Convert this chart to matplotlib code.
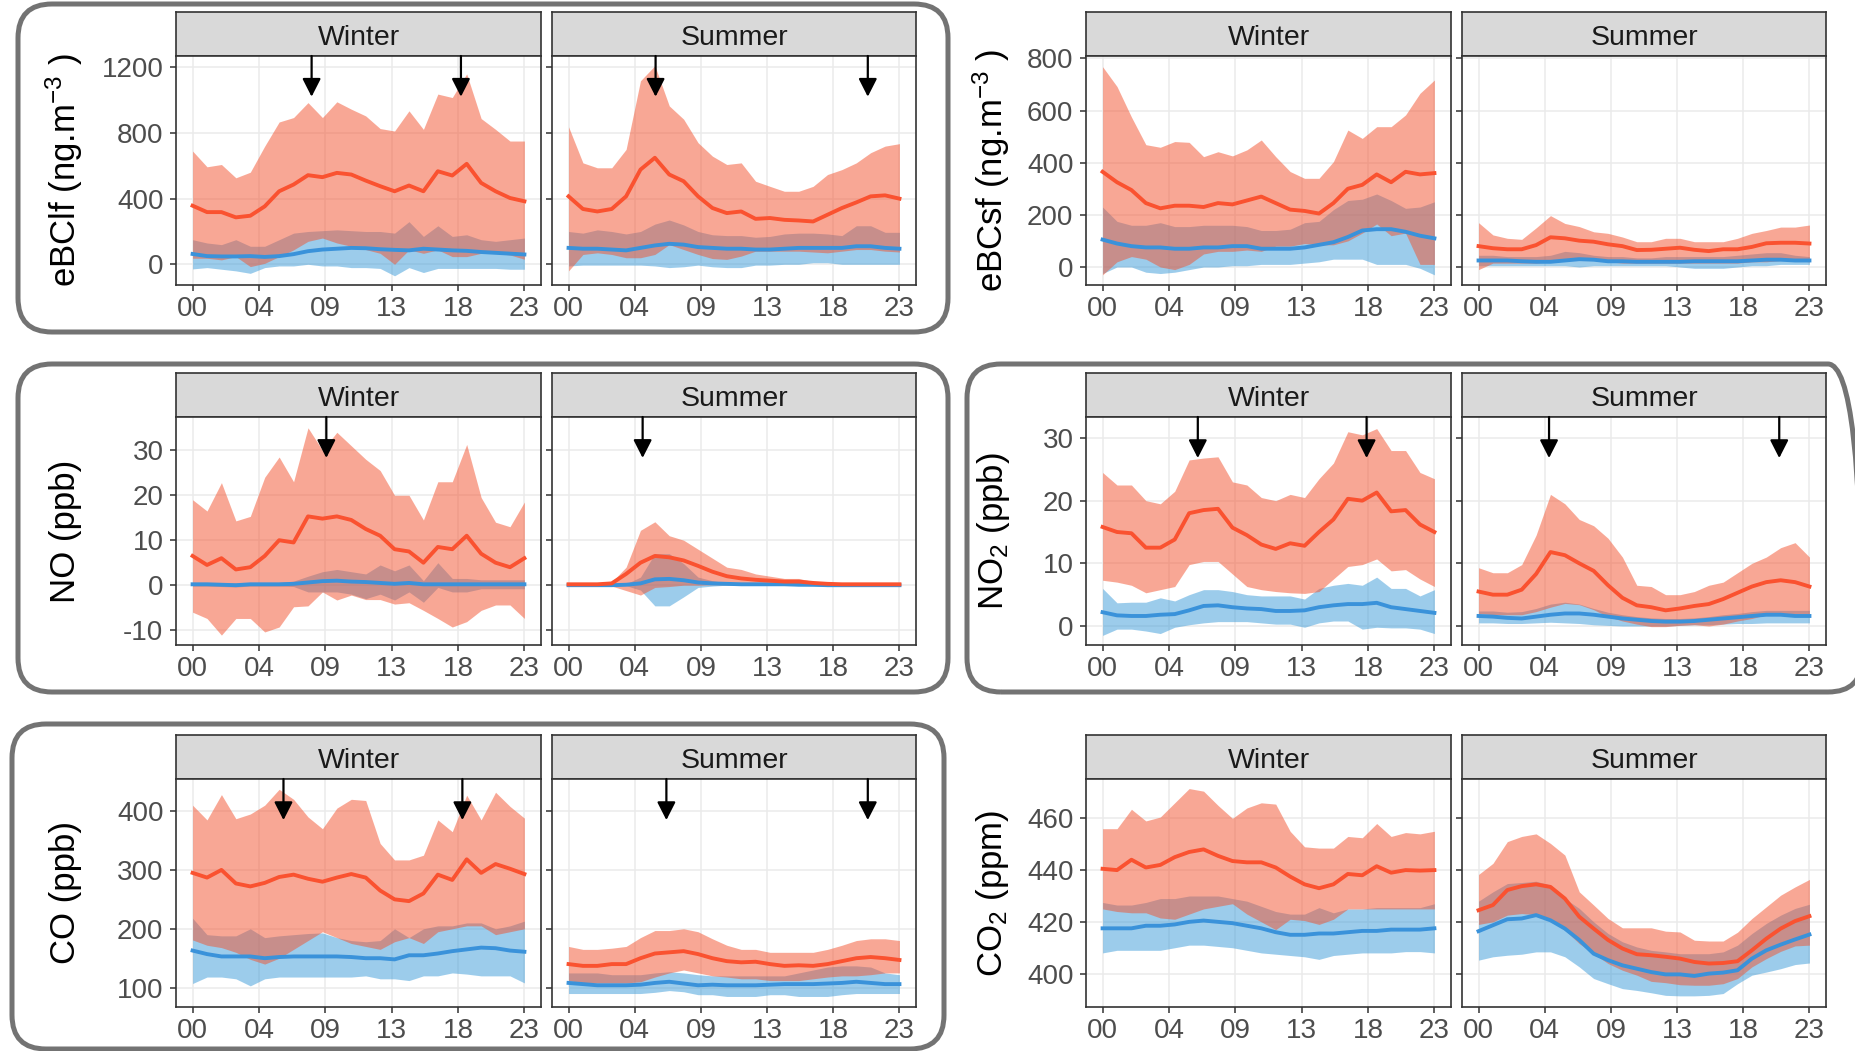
"""Diurnal profiles (mean and spread) per pollutant, winter vs summer."""

import matplotlib.pyplot as plt
import numpy as np
from matplotlib.patches import FancyBboxPatch
from matplotlib.transforms import Affine2D

plt.rcParams['font.family'] = ['Liberation Sans', 'DejaVu Sans']
plt.rcParams['mathtext.fontset'] = 'custom'
plt.rcParams['mathtext.rm'] = 'Liberation Sans'
plt.rcParams['mathtext.it'] = 'Liberation Sans:italic'
plt.rcParams['mathtext.bf'] = 'Liberation Sans:bold'
plt.rcParams['axes.unicode_minus'] = False

hours = list(range(24))
hour_labels = ['00', '04', '09', '13', '18', '23']
seasons = ['Winter', 'Summer']

# ---- eBClf (ng m-3) ----
ebclf_w_red_mid = [357, 318, 318, 286, 296, 353, 445, 486, 543, 531, 557, 547, 510, 476, 445, 480, 445, 567, 541, 612, 496, 445, 404, 384]
ebclf_w_red_lo = [37, 37, 27, 47, -14, 6, 47, 88, 140, 160, 130, 110, 90, 67, 0, 88, 67, 88, 47, 47, 67, 67, 57, 31]
ebclf_w_red_hi = [690, 594, 608, 527, 561, 720, 867, 894, 985, 894, 990, 945, 904, 827, 812, 935, 822, 1037, 1016, 1160, 888, 822, 751, 751]
ebclf_w_blue_mid = [63, 50, 48, 48, 50, 45, 50, 62, 80, 90, 95, 100, 98, 92, 88, 85, 95, 90, 85, 82, 75, 70, 65, 60]
ebclf_w_blue_lo = [-28, -20, -30, -40, -55, -20, -10, -10, 0, -10, -10, -20, -20, -25, -70, -20, -50, -25, -25, -25, -25, -25, -30, -30]
ebclf_w_blue_hi = [150, 130, 120, 150, 110, 110, 150, 190, 200, 205, 210, 205, 200, 200, 190, 260, 170, 235, 170, 180, 150, 140, 150, 160]
ebclf_s_red_mid = [414, 337, 322, 337, 414, 577, 649, 547, 506, 414, 343, 312, 322, 277, 282, 271, 267, 261, 302, 343, 377, 414, 420, 400]
ebclf_s_red_lo = [-40, 60, 70, 60, 40, 40, 60, 120, 90, 60, 35, 30, 50, 80, 80, 80, 80, 75, 70, 80, 90, 90, 80, 75]
ebclf_s_red_hi = [838, 618, 588, 588, 700, 1118, 1210, 965, 884, 741, 659, 608, 618, 506, 475, 445, 445, 475, 547, 577, 618, 680, 720, 735]
ebclf_s_blue_mid = [100, 95, 95, 90, 85, 100, 115, 125, 120, 105, 100, 95, 95, 90, 90, 95, 100, 100, 100, 100, 110, 110, 100, 95]
ebclf_s_blue_lo = [-10, -5, -5, -5, -5, -5, -10, -20, -15, -5, -15, -20, -20, -5, -5, 0, 0, 10, 10, 0, 0, 0, 0, 0]
ebclf_s_blue_hi = [200, 190, 210, 200, 185, 200, 245, 270, 240, 200, 180, 175, 175, 165, 170, 185, 190, 190, 185, 175, 235, 235, 195, 195]

# ---- eBCsf (ng m-3) ----
ebcsf_w_red_mid = [365, 325, 295, 245, 225, 235, 235, 230, 245, 240, 255, 270, 245, 220, 215, 205, 245, 300, 315, 355, 325, 365, 355, 360]
ebcsf_w_red_lo = [-30, 20, 40, 30, 0, -10, 10, 50, 60, 60, 65, 60, 80, 80, 90, 85, 85, 100, 130, 165, 120, 130, 10, 10]
ebcsf_w_red_hi = [768, 692, 575, 469, 459, 481, 478, 423, 442, 426, 449, 487, 423, 366, 340, 340, 404, 525, 493, 538, 538, 583, 666, 717]
ebcsf_w_blue_mid = [105, 90, 80, 75, 75, 70, 70, 75, 75, 80, 80, 70, 70, 70, 75, 85, 95, 115, 140, 145, 145, 135, 120, 110]
ebcsf_w_blue_lo = [-25, 0, 0, -20, -25, -20, -10, 0, 0, 5, 5, 10, 10, 10, 15, 20, 30, 30, 30, 10, 10, 10, -5, -30]
ebcsf_w_blue_hi = [230, 175, 160, 160, 170, 155, 155, 160, 160, 160, 155, 140, 140, 145, 170, 175, 220, 255, 260, 280, 255, 225, 230, 250]
ebcsf_s_red_mid = [80, 72, 68, 68, 84, 114, 110, 101, 97, 87, 80, 65, 66, 70, 74, 66, 61, 68, 68, 77, 91, 93, 93, 90]
ebcsf_s_red_lo = [-10, 15, 15, 15, 15, 20, 25, 30, 25, 20, 15, 15, 15, 15, 15, 15, 15, 15, 15, 20, 20, 25, 25, 20]
ebcsf_s_red_hi = [170, 123, 110, 106, 150, 197, 167, 155, 135, 129, 115, 97, 97, 110, 110, 97, 97, 97, 110, 129, 140, 153, 153, 161]
ebcsf_s_blue_mid = [25, 25, 25, 22, 20, 20, 25, 30, 28, 22, 22, 20, 20, 20, 20, 22, 22, 22, 22, 25, 28, 28, 25, 25]
ebcsf_s_blue_lo = [5, 5, 5, 5, 5, 5, 5, 0, 5, 5, 5, 5, 5, 5, 0, -5, -5, -5, 0, 5, 5, 10, 10, 10]
ebcsf_s_blue_hi = [45, 45, 40, 40, 40, 45, 60, 55, 45, 40, 40, 35, 35, 40, 40, 40, 40, 40, 45, 50, 55, 55, 45, 40]

# ---- NO (ppb) ----
no_w_red_mid = [6.5, 4.5, 6, 3.5, 4, 6.5, 10, 9.5, 15.3, 14.8, 15.3, 14.5, 12.5, 11, 8, 7.5, 5, 8.5, 8, 11, 7, 5, 4, 6]
no_w_red_lo = [-6, -7.4, -11.1, -7.4, -7.4, -10.4, -9.3, -4.8, -4.6, -1.5, -3.3, -2.2, -3.2, -3.2, -4.2, -3.9, -5.6, -7.4, -9.3, -8.1, -5.6, -4.4, -4.4, -7.4]
no_w_red_hi = [19, 16.5, 22.8, 14.3, 15.3, 24, 28.5, 23, 35, 30, 34, 31, 28, 25.5, 20, 20, 14.5, 23, 23, 31.3, 19.5, 14, 13, 18.5]
no_w_blue_mid = [0.2, 0.2, 0.1, 0, 0.2, 0.2, 0.2, 0.3, 0.6, 0.9, 1.0, 0.8, 0.7, 0.5, 0.3, 0.5, 0.2, 0.2, 0.2, 0.2, 0.2, 0.2, 0.2, 0.2]
no_w_blue_lo = [-0.2, -0.2, -0.3, -0.4, -0.2, -0.2, -0.2, -0.3, -1.5, -1.5, -1.5, -2, -3, -2, -3.3, -1.5, -3.8, -0.5, -1.5, -1.5, -0.8, -0.8, -0.8, -0.8]
no_w_blue_hi = [0.6, 0.6, 0.5, 0.5, 0.6, 0.6, 0.6, 0.9, 2, 3, 3.5, 3, 2.5, 4.5, 3.2, 4.5, 1, 5, 1.5, 1.5, 1.2, 1.2, 1.2, 1.2]
no_s_red_mid = [0.2, 0.2, 0.2, 0.4, 2.5, 5, 6.5, 6.2, 5.5, 4.3, 3, 2, 1.5, 1.2, 1, 0.8, 0.8, 0.5, 0.3, 0.2, 0.2, 0.2, 0.2, 0.2]
no_s_red_lo = [0, 0, 0, -0.2, -1.2, -2.2, -0.5, -0.3, 0, 0, 0.1, 0.1, 0.2, 0.2, 0.2, 0.2, 0.2, 0, 0, 0, 0, 0, 0, 0]
no_s_red_hi = [0.4, 0.4, 0.4, 0.7, 4, 12.2, 14.1, 11, 10, 8, 6, 4, 3.5, 2.5, 2, 1.5, 1.5, 0.8, 0.4, 0.4, 0.4, 0.4, 0.4, 0.4]
no_s_blue_mid = [0, 0, 0, 0, 0.1, 0.4, 1.3, 1.4, 1.1, 0.6, 0.4, 0.3, 0.2, 0.2, 0.2, 0.2, 0.1, 0.1, 0, 0, 0, 0, 0, 0]
no_s_blue_lo = [-0.2, -0.2, -0.2, -0.2, -0.1, -1.1, -4.6, -4.6, -2.6, -0.5, -0.2, 0, 0, 0, 0, 0, -0.1, -0.2, -0.3, -0.3, -0.3, -0.3, -0.3, -0.3]
no_s_blue_hi = [0.1, 0.1, 0.1, 0.1, 0.3, 1.8, 7, 7, 4.8, 1.8, 1, 0.5, 0.5, 0.4, 0.3, 0.3, 0.3, 0.2, 0.1, 0.1, 0.1, 0.1, 0.1, 0.1]

# ---- NO2 (ppb) ----
no2_w_red_mid = [15.8, 15, 14.8, 12.5, 12.5, 13.8, 18, 18.5, 18.7, 15.7, 14.5, 13, 12.3, 13.2, 12.8, 15, 17, 20.3, 20, 21.3, 18.3, 18.5, 16.2, 15]
no2_w_red_lo = [7.3, 7, 6.5, 5.3, 5.8, 6.3, 9.8, 10.3, 10.3, 8.3, 6.3, 5.8, 5.5, 5.3, 5.2, 5.5, 7.5, 9.5, 9.8, 10.7, 8.8, 9, 7.5, 6.3]
no2_w_red_hi = [24.5, 22.5, 22.5, 20, 19.5, 21.5, 26.5, 26.8, 27, 23, 22.5, 20.5, 20, 21, 20.5, 23.5, 26, 31, 30.5, 31.5, 28, 28, 24.5, 23.5]
no2_w_blue_mid = [2.2, 1.7, 1.6, 1.6, 1.8, 1.9, 2.5, 3.2, 3.3, 3, 2.8, 2.7, 2.4, 2.4, 2.5, 3, 3.3, 3.5, 3.5, 3.7, 3, 2.7, 2.4, 2.1]
no2_w_blue_lo = [-1.5, -0.5, -0.5, -0.8, -1.2, -0.2, 0.2, 0.5, 0.7, 0.7, 0.7, 0.5, 0.3, 0.3, -0.2, 0.5, 0.8, 0.8, -0.5, -0.2, -0.3, -0.3, -0.5, -1.2]
no2_w_blue_hi = [6, 3.7, 3.8, 3.8, 4.5, 4, 5, 5.8, 5.8, 5.5, 5, 4.8, 4.8, 4.8, 4.3, 6, 6.5, 6.8, 6.5, 7.8, 6, 6, 4.8, 5.8]
no2_s_red_mid = [5.5, 5, 5, 5.8, 8.3, 11.8, 11.3, 10, 8.8, 6.5, 4.5, 3.3, 3, 2.5, 2.8, 3.2, 3.5, 4.3, 5.3, 6.3, 7, 7.3, 7, 6.3]
no2_s_red_lo = [2.0, 1.8, 1.8, 1.8, 2.3, 3.0, 3.6, 3.4, 2.6, 1.5, 0.8, 0.3, -0.1, -0.1, 0.1, 0.2, 0.0, 0.3, 0.8, 1.2, 1.8, 2.0, 2.0, 2.0]
no2_s_red_hi = [9.3, 8.5, 8.5, 9.8, 14.5, 21, 19.5, 17, 16, 14, 11, 6.5, 6.3, 5, 5, 5.5, 6.5, 7, 8.5, 10, 11, 12.5, 13.3, 11]
no2_s_blue_mid = [1.6, 1.5, 1.3, 1.2, 1.5, 1.8, 2.0, 2.0, 1.8, 1.5, 1.2, 1.0, 0.8, 0.7, 0.7, 0.8, 1.0, 1.2, 1.4, 1.6, 1.8, 1.8, 1.6, 1.6]
no2_s_blue_lo = [0.5, 0.5, 0.4, 0.4, 0.5, 0.6, 0.5, 0.4, 0.2, 0.1, 0.0, 0.0, 0.0, 0.0, 0.1, 0.2, 0.2, 0.3, 0.4, 0.4, 0.5, 0.5, 0.5, 0.5]
no2_s_blue_hi = [2.4, 2.4, 2.2, 2.3, 2.8, 3.5, 3.8, 3.5, 2.8, 2.2, 1.8, 1.5, 1.3, 1.2, 1.2, 1.3, 1.5, 1.8, 2.0, 2.3, 2.5, 2.5, 2.5, 2.5]

# ---- CO (ppb) ----
co_w_red_mid = [295, 287, 300, 277, 272, 278, 288, 292, 285, 280, 287, 293, 287, 265, 250, 247, 260, 292, 283, 318, 295, 310, 302, 293]
co_w_red_lo = [181, 172, 168, 160, 148, 140, 150, 165, 180, 195, 185, 175, 170, 165, 178, 185, 175, 195, 200, 205, 205, 190, 195, 200]
co_w_red_hi = [410, 385, 428, 387, 395, 410, 437, 420, 390, 370, 405, 420, 418, 345, 317, 317, 325, 385, 365, 427, 385, 432, 408, 388]
co_w_blue_mid = [163, 157, 153, 153, 153, 150, 152, 153, 153, 153, 153, 152, 150, 150, 148, 155, 155, 158, 162, 165, 168, 167, 163, 161]
co_w_blue_lo = [107, 118, 118, 115, 103, 115, 118, 118, 118, 118, 118, 118, 120, 115, 115, 112, 120, 120, 125, 123, 120, 120, 120, 108]
co_w_blue_hi = [218, 190, 188, 188, 200, 185, 188, 190, 192, 193, 185, 180, 178, 180, 200, 185, 200, 205, 205, 210, 210, 200, 205, 213]
co_s_red_mid = [140, 137, 137, 140, 140, 150, 158, 160, 162, 157, 150, 145, 143, 144, 140, 137, 138, 137, 140, 145, 150, 152, 150, 147]
co_s_red_lo = [112, 108, 108, 108, 108, 110, 118, 125, 130, 125, 120, 118, 115, 115, 112, 112, 112, 115, 118, 120, 120, 122, 125, 125]
co_s_red_hi = [170, 165, 165, 167, 170, 185, 197, 197, 200, 195, 183, 172, 165, 165, 160, 160, 160, 160, 165, 172, 180, 183, 183, 180]
co_s_blue_mid = [108, 106, 104, 104, 104, 105, 108, 110, 107, 104, 105, 104, 104, 104, 105, 106, 106, 106, 107, 108, 110, 108, 106, 106]
co_s_blue_lo = [90, 90, 90, 90, 90, 90, 92, 95, 93, 88, 88, 85, 85, 85, 88, 88, 85, 85, 85, 88, 90, 90, 90, 90]
co_s_blue_hi = [125, 125, 125, 122, 122, 122, 125, 127, 125, 122, 120, 120, 120, 120, 120, 120, 125, 130, 135, 137, 137, 135, 125, 122]

# ---- CO2 (ppm) ----
co2_w_red_mid = [440.5, 440, 444, 441, 442, 445, 447, 448, 445.5, 443.5, 443, 443, 441, 437.5, 434.5, 433, 434.5, 438.5, 438, 441.5, 439, 440, 439.8, 440]
co2_w_red_lo = [425, 424, 423.5, 423.5, 421.5, 421, 423, 425, 426, 427, 423, 420, 417, 421, 420.5, 419, 421, 425, 425, 425, 425, 425, 425, 425]
co2_w_red_hi = [456, 456, 463.5, 459, 460.5, 466, 471.5, 470.5, 465, 460, 464, 466, 465.5, 455, 449, 448.5, 448.5, 453, 452.5, 458, 453, 454.5, 454, 455]
co2_w_blue_mid = [417.5, 417.5, 417.5, 418.5, 418.5, 419, 420, 420.5, 420, 419.5, 418.5, 417.5, 416, 415, 415, 415.5, 415.5, 416, 416.5, 416.5, 417, 417, 417, 417.5]
co2_w_blue_lo = [408, 409, 409, 409, 409, 410, 411, 411, 410.5, 410, 409, 408, 407.5, 407, 406.5, 405.5, 407, 407.5, 408, 408, 408, 408.5, 408.5, 408]
co2_w_blue_hi = [427.5, 426.5, 426.5, 427.5, 429, 429, 430, 430, 430, 429, 428, 426, 424, 423, 423, 425.5, 423.5, 425, 425, 425.5, 425.5, 425.5, 425.5, 427]
co2_s_red_mid = [424.5, 426.5, 432.3, 433.8, 434.5, 433.5, 429, 422, 417.4, 413, 409.7, 407.5, 407.1, 406.5, 405.8, 404.5, 403.9, 404.1, 404.8, 409, 413.5, 417.4, 420.3, 422.2]
co2_s_red_lo = [419, 420, 422.6, 423.2, 422.8, 420.6, 416.8, 411.6, 407.7, 403.9, 401.3, 399.4, 397, 396.5, 395.7, 395.5, 395.5, 396.1, 398.1, 402.6, 405.8, 408.6, 410.7, 411]
co2_s_red_hi = [438.3, 442.6, 451, 453, 454, 450.3, 445.8, 431.6, 426.5, 421.3, 417.7, 417.7, 417.7, 416.4, 416.1, 412.9, 412.6, 412.6, 416, 421.3, 425.8, 430.3, 433.5, 436.4]
co2_s_blue_mid = [416.4, 418.7, 421, 421.3, 422.6, 420.6, 417.4, 413, 407.7, 405.2, 403.2, 401.9, 400.6, 399.7, 399.7, 399.1, 400, 400.4, 401.3, 405.8, 409, 411.2, 413.2, 415.1]
co2_s_blue_lo = [405.2, 406.5, 407.1, 407.5, 408.4, 408.4, 406.5, 402.6, 398.1, 396.1, 394.2, 393.5, 392.6, 391.6, 391.4, 391.4, 391.6, 392.3, 396.1, 399.4, 400.6, 401.9, 403.5, 404.1]
co2_s_blue_hi = [428, 431.6, 434.8, 435.2, 435.7, 434.2, 429, 425.2, 420, 415.5, 412.3, 410.3, 409, 408.4, 407.7, 407.7, 407.7, 408.4, 411, 415.5, 419.4, 422.6, 425.2, 426.8]

# arrows: (hour, level the arrow points down to)
ebclf_arrows = [[8.25, 18.6], [6.05, 20.8]]
no_arrows = [[9.27], [5.15]]
no2_arrows = [[6.6, 18.3], [4.9, 20.9]]
co_arrows = [[6.3, 18.7], [6.8, 20.8]]

RED_FILL, RED_LINE = '#F3512D', '#FA5230'
BLUE_FILL, BLUE_LINE = '#3B9BD9', '#3A92DA'
W, H = 1855, 1051

panels = [
    dict(row=0, col=0, ylabel=r'eBClf (ng.m$^{-3}$ )', ylim=(-126, 1269), yticks=[0, 400, 800, 1200],
         w=(ebclf_w_red_lo, ebclf_w_red_mid, ebclf_w_red_hi, ebclf_w_blue_lo, ebclf_w_blue_mid, ebclf_w_blue_hi),
         s=(ebclf_s_red_lo, ebclf_s_red_mid, ebclf_s_red_hi, ebclf_s_blue_lo, ebclf_s_blue_mid, ebclf_s_blue_hi),
         arrows=ebclf_arrows, tip=1021, lx=64),
    dict(row=0, col=1, ylabel=r'eBCsf (ng.m$^{-3}$ )', ylim=(-69, 809), yticks=[0, 200, 400, 600, 800],
         w=(ebcsf_w_red_lo, ebcsf_w_red_mid, ebcsf_w_red_hi, ebcsf_w_blue_lo, ebcsf_w_blue_mid, ebcsf_w_blue_hi),
         s=(ebcsf_s_red_lo, ebcsf_s_red_mid, ebcsf_s_red_hi, ebcsf_s_blue_lo, ebcsf_s_blue_mid, ebcsf_s_blue_hi),
         arrows=None, tip=None, lx=991),
    dict(row=1, col=0, ylabel='NO (ppb)', ylim=(-13.3, 37.4), yticks=[-10, 0, 10, 20, 30],
         w=(no_w_red_lo, no_w_red_mid, no_w_red_hi, no_w_blue_lo, no_w_blue_mid, no_w_blue_hi),
         s=(no_s_red_lo, no_s_red_mid, no_s_red_hi, no_s_blue_lo, no_s_blue_mid, no_s_blue_hi),
         arrows=no_arrows, tip=28.3, lx=66),
    dict(row=1, col=1, ylabel=r'NO$_2$ (ppb)', ylim=(-3.03, 33.35), yticks=[0, 10, 20, 30],
         w=(no2_w_red_lo, no2_w_red_mid, no2_w_red_hi, no2_w_blue_lo, no2_w_blue_mid, no2_w_blue_hi),
         s=(no2_s_red_lo, no2_s_red_mid, no2_s_red_hi, no2_s_blue_lo, no2_s_blue_mid, no2_s_blue_hi),
         arrows=no2_arrows, tip=26.8, lx=994),
    dict(row=2, col=0, ylabel='CO (ppb)', ylim=(67.1, 454.5), yticks=[100, 200, 300, 400],
         w=(co_w_red_lo, co_w_red_mid, co_w_red_hi, co_w_blue_lo, co_w_blue_mid, co_w_blue_hi),
         s=(co_s_red_lo, co_s_red_mid, co_s_red_hi, co_s_blue_lo, co_s_blue_mid, co_s_blue_hi),
         arrows=co_arrows, tip=384.7, lx=66),
    dict(row=2, col=1, ylabel=r'CO$_2$ (ppm)', ylim=(387.1, 475.2), yticks=[400, 420, 440, 460],
         w=(co2_w_red_lo, co2_w_red_mid, co2_w_red_hi, co2_w_blue_lo, co2_w_blue_mid, co2_w_blue_hi),
         s=(co2_s_red_lo, co2_s_red_mid, co2_s_red_hi, co2_s_blue_lo, co2_s_blue_mid, co2_s_blue_hi),
         arrows=None, tip=None, lx=993),
]

# pixel layout (x from left, y from top)
facet_x = [[(176, 541), (552, 916)], [(1086, 1451), (1462, 1826)]]
row_y = [(12, 56, 285), (373, 417, 645), (735, 779, 1007)]

fig = plt.figure(figsize=(W / 100, H / 100), dpi=100)


def px_axes(x0, y0, x1, y1):
    return fig.add_axes([x0 / W, 1 - y1 / H, (x1 - x0) / W, (y1 - y0) / H])


for p in panels:
    ys0, ys1, yp1 = row_y[p['row']]
    for k, season in enumerate(seasons):
        x0, x1 = facet_x[p['col']][k]
        strip = px_axes(x0, ys0, x1, ys1)
        strip.set_facecolor('#D9D9D9')
        strip.set_xticks([])
        strip.set_yticks([])
        for sp in strip.spines.values():
            sp.set_color('#333333')
            sp.set_linewidth(1.2)
        strip.text(0.5, 0.42, season, ha='center', va='center', fontsize=20.5,
                   color='#1A1A1A', transform=strip.transAxes)

        ax = px_axes(x0, ys1, x1, yp1)
        red_lo, red_mid, red_hi, blue_lo, blue_mid, blue_hi = p['w'] if k == 0 else p['s']
        ax.fill_between(hours, blue_lo, blue_hi, color=BLUE_FILL, alpha=0.5, lw=0)
        ax.fill_between(hours, red_lo, red_hi, color=RED_FILL, alpha=0.5, lw=0)
        ax.plot(hours, blue_mid, color=BLUE_LINE, lw=2.8)
        ax.plot(hours, red_mid, color=RED_LINE, lw=2.8)

        ax.set_xlim(-1.15, 24.15)
        ax.set_ylim(*p['ylim'])
        ax.set_xticks(np.linspace(0, 23, 6))
        ax.set_xticklabels(hour_labels)
        ax.set_yticks(p['yticks'])
        if k == 0:
            ax.set_yticklabels([str(v) for v in p['yticks']])
        else:
            ax.tick_params(axis='y', length=0, labelleft=False)
        ax.tick_params(labelsize=20, labelcolor='#4D4D4D', color='#333333',
                       length=4, width=1.1, pad=4)
        ax.tick_params(axis='y', pad=5)
        ax.grid(True, color='#EBEBEB', lw=1.1)
        ax.set_axisbelow(True)
        for sp in ax.spines.values():
            sp.set_color('#333333')
            sp.set_linewidth(1.2)

        if p['arrows']:
            for xa in p['arrows'][k]:
                ax.annotate('', xy=(xa, p['tip']), xytext=(xa, 1.0),
                            xycoords='data', textcoords=('data', 'axes fraction'),
                            arrowprops=dict(arrowstyle='-|>,head_length=0.55,head_width=0.28',
                                            color='black', lw=1.6, shrinkA=0, shrinkB=0,
                                            mutation_scale=20))

    yc = (ys1 + yp1) / 2
    fig.text(p['lx'] / W, 1 - yc / H, p['ylabel'], rotation=90, ha='center',
             va='center', fontsize=25, color='black')

# rounded frames around the highlighted panels
to_fig = Affine2D().scale(1 / W, 1 / H) + fig.transFigure
frames = [(18, 4, 948, 332), (18, 364, 948, 692), (967, 364, 1862, 692), (12, 724, 944, 1049)]
for fx0, fy0, fx1, fy1 in frames:
    box = FancyBboxPatch((fx0, H - fy1), fx1 - fx0, fy1 - fy0,
                         boxstyle='round,pad=0,rounding_size=34', transform=to_fig,
                         fill=False, ec='#737373', lw=3.6)
    fig.add_artist(box)

fig.savefig('out.png', dpi=100)
plt.close(fig)
